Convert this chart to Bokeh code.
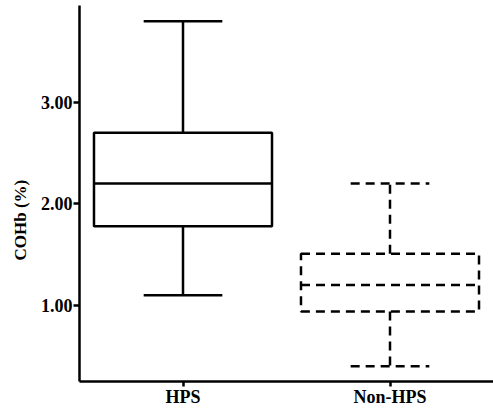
from bokeh.plotting import figure
from bokeh.models import FactorRange, Range1d, FixedTicker, NumeralTickFormatter, Title
from bokeh.embed import file_html
from bokeh.resources import INLINE

groups = ["HPS", "Non-HPS"]
lower_whisker = [1.10, 0.40]
q1 = [1.78, 0.94]
median = [2.20, 1.20]
q3 = [2.70, 1.51]
upper_whisker = [3.80, 2.20]
dashes = ["solid", "9 6"]
y_ticks = [1.0, 2.0, 3.0]
y_title = "COHb (%)"

p = figure(width=493, height=410, x_range=FactorRange(factors=groups, range_padding=0),
           y_range=Range1d(0.25, 3.955), output_backend="svg", toolbar_location=None,
           min_border_left=79, min_border_right=0, min_border_top=5, min_border_bottom=29)
p.outline_line_color = None
p.xgrid.visible = False
p.ygrid.visible = False
p.background_fill_color = "white"

box_w = 0.43
cap_w = 0.19
for i, g in enumerate(groups):
    d = dashes[i]
    lw = 2.5
    p.quad(left=[(g, -box_w)], right=[(g, box_w)], bottom=[q1[i]], top=[q3[i]],
           fill_color=None, line_color="black", line_width=lw, line_dash=d)
    p.segment(x0=[(g, -box_w)], x1=[(g, box_w)], y0=[median[i]], y1=[median[i]],
              line_color="black", line_width=lw, line_dash=d)
    p.segment(x0=[g, g], x1=[g, g], y0=[q3[i], q1[i]], y1=[upper_whisker[i], lower_whisker[i]],
              line_color="black", line_width=lw, line_dash=d)
    p.segment(x0=[(g, -cap_w), (g, -cap_w)], x1=[(g, cap_w), (g, cap_w)],
              y0=[upper_whisker[i], lower_whisker[i]], y1=[upper_whisker[i], lower_whisker[i]],
              line_color="black", line_width=lw, line_dash=d)

p.yaxis.ticker = FixedTicker(ticks=y_ticks)
p.yaxis.formatter = NumeralTickFormatter(format="0.00")
for ax in (p.xaxis[0], p.yaxis[0]):
    ax.axis_line_width = 2.5
    ax.axis_line_color = "black"
    ax.major_tick_line_width = 2.5
    ax.major_tick_line_color = "black"
    ax.major_tick_out = 6
    ax.major_tick_in = 0
    ax.minor_tick_line_color = None
    ax.major_label_text_font = "Liberation Serif"
    ax.major_label_text_font_size = "18px"
    ax.major_label_text_color = "black"
    ax.major_label_text_font_style = "bold"
p.xaxis.major_tick_out = 5
p.xaxis.major_label_standoff = 0
p.yaxis.major_label_standoff = 1

t = Title(text=y_title, align="left", offset=121, standoff=16,
          text_font="Liberation Serif", text_font_size="17px", text_font_style="bold",
          text_color="black")
p.add_layout(t, "left")

open("out.html", "w").write(file_html(p, INLINE))
